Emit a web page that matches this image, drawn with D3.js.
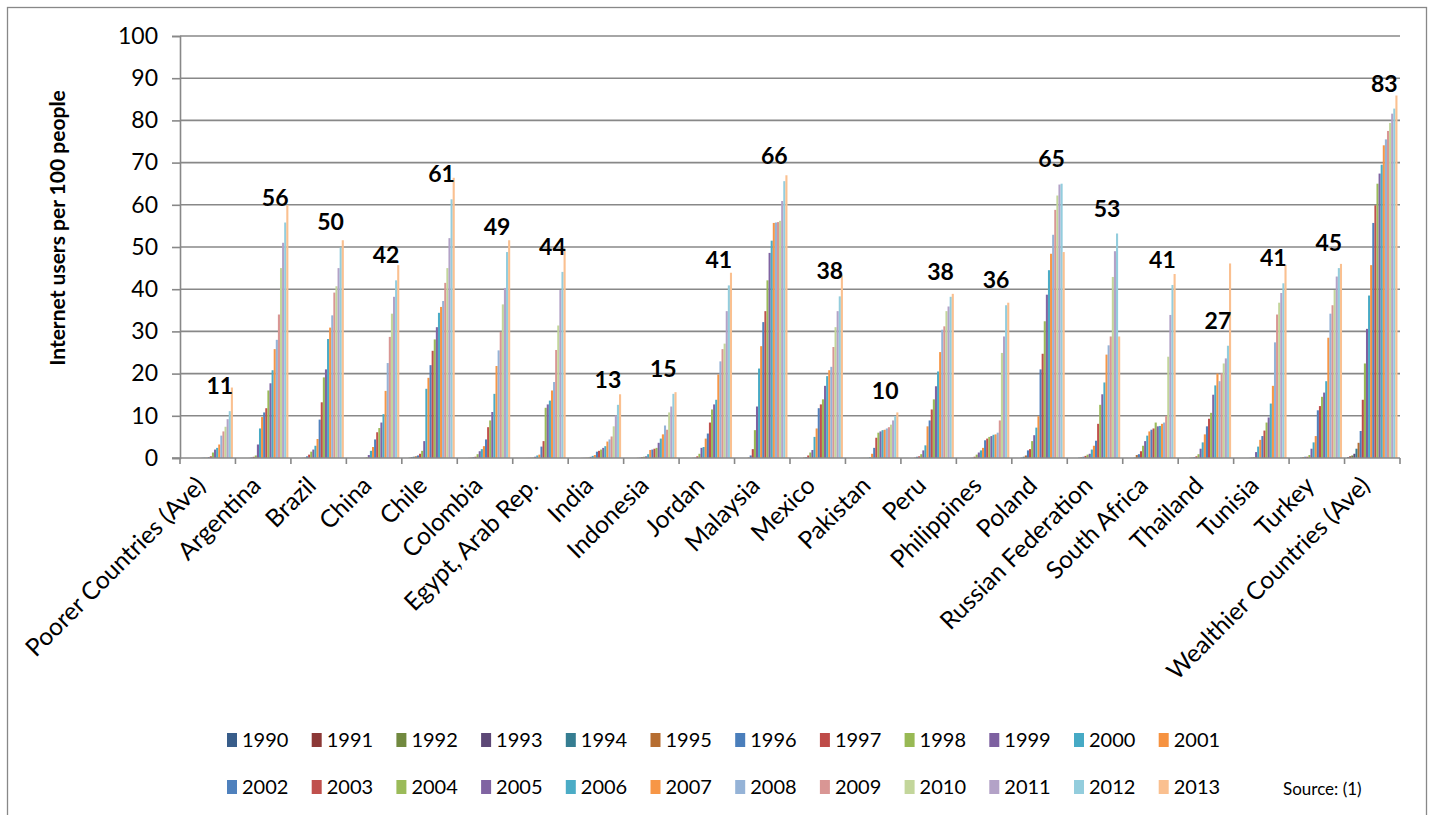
<!DOCTYPE html>
<html><head><meta charset="utf-8">
<script src="https://cdn.jsdelivr.net/npm/d3@7"></script>
<style>
body{margin:0;background:#fff}
svg{display:block}
text{font-family:Lato,"Open Sans",sans-serif;fill:#000}
</style>
</head><body>
<svg id="chart" width="1434" height="815"></svg>
<script>
const countries = ["Poorer Countries (Ave)","Argentina","Brazil","China","Chile","Colombia","Egypt, Arab Rep.","India","Indonesia","Jordan","Malaysia","Mexico","Pakistan","Peru","Philippines","Poland","Russian Federation","South Africa","Thailand","Tunisia","Turkey","Wealthier Countries (Ave)"];
const years = ["1990","1991","1992","1993","1994","1995","1996","1997","1998","1999","2000","2001","2002","2003","2004","2005","2006","2007","2008","2009","2010","2011","2012","2013"];
const yTicks = [0,10,20,30,40,50,60,70,80,90,100];

// Internet users per 100 people, 1990..2013
const poorer      = [0,0,0,0,0,0,0,0.01,0.02,0.05,0.1,0.1,0.2,0.4,1.3,2.0,2.4,3.2,5.3,6.3,7.4,9.2,11.1,16.7];
const argentina   = [0,0,0,0,0,0.03,0.14,0.28,0.6,3.2,7.0,9.7,10.8,11.8,16.0,17.7,20.8,25.8,28.0,34.0,45.0,51.0,55.8,59.9];
const brazil      = [0,0,0,0,0.04,0.1,0.4,0.8,1.5,2.0,2.9,4.5,9.1,13.2,19.1,21.0,28.2,30.9,33.8,39.2,40.7,45.0,49.9,51.6];
const china       = [0,0,0,0,0,0,0.01,0.03,0.17,0.7,1.7,2.6,4.4,6.1,7.1,8.4,10.4,15.9,22.5,28.7,34.2,38.2,42.1,45.7];
const chile       = [0,0,0.1,0.2,0.3,0.4,0.6,1.0,1.7,4.0,16.4,19.0,22.0,25.4,28.1,31.0,34.4,35.8,37.2,41.5,45.0,52.1,61.3,66.4];
const colombia    = [0,0,0,0,0.05,0.1,0.2,0.3,0.9,1.6,2.1,2.8,4.4,7.3,8.9,10.9,15.2,21.8,25.5,29.9,36.4,40.3,48.8,51.6];
const egypt       = [0,0,0,0,0,0.02,0.04,0.07,0.13,0.3,0.6,0.8,2.7,4.0,11.9,12.7,13.6,16.0,18.0,25.6,31.4,39.8,44.1,49.5];
const india       = [0,0,0,0,0,0.03,0.05,0.07,0.14,0.27,0.5,0.7,1.5,1.7,2.0,2.4,2.8,3.9,4.4,5.1,7.5,10.1,12.6,15.1];
const indonesia   = [0,0,0,0,0,0.05,0.1,0.2,0.3,0.4,0.9,1.9,2.0,2.2,2.4,3.6,4.6,5.6,7.7,6.7,10.8,12.2,15.2,15.6];
const jordan      = [0,0,0,0,0,0.05,0.1,0.4,1.0,2.4,2.6,4.6,5.8,8.4,11.5,12.7,13.8,19.8,22.9,25.8,27.1,34.8,40.9,43.9];
const malaysia    = [0,0,0,0,0,0.1,0.6,2.1,6.6,12.2,21.2,26.5,32.2,34.8,42.1,48.6,51.5,55.7,55.8,55.9,56.2,60.9,65.6,67.0];
const mexico      = [0,0,0,0,0,0.1,0.2,0.6,1.3,1.9,5.0,7.0,11.8,12.7,13.9,17.1,19.4,20.8,21.6,26.3,31.0,34.8,38.3,43.3];
const pakistan    = [0,0,0,0,0,0.01,0.02,0.03,0.04,0.05,0.2,1.0,2.4,4.8,6.0,6.3,6.6,6.7,7.0,7.3,7.9,8.9,9.9,10.8];
const peru        = [0,0,0,0,0,0.1,0.3,0.4,0.9,1.8,3.0,7.5,8.9,11.5,13.9,17.0,20.5,25.1,30.4,31.2,34.8,35.9,38.2,38.9];
const philippines = [0,0,0,0,0.01,0.03,0.08,0.3,0.8,1.3,1.8,2.4,4.2,4.6,5.0,5.2,5.5,5.6,6.0,8.9,24.9,28.8,36.2,36.8];
const poland      = [0,0,0,0.1,0.3,0.6,1.8,2.1,4.0,5.4,7.2,9.9,21.0,24.7,32.4,38.7,44.5,48.4,52.9,58.8,62.2,64.8,65.0,48.8];
const russia      = [0,0,0,0,0.1,0.2,0.3,0.5,0.8,1.0,2.0,2.9,4.1,8.1,12.6,15.1,17.9,24.5,26.7,28.8,42.9,49.0,53.2,28.8];
const southAfrica = [0,0,0,0.01,0.1,0.7,0.9,1.6,2.9,4.0,5.3,6.3,6.7,7.0,8.4,7.5,7.6,8.1,8.4,10.0,24.0,33.9,41.0,43.6];
const thailand    = [0,0,0,0,0.05,0.1,0.2,0.4,0.9,2.2,3.7,5.6,7.5,9.3,10.7,15.0,17.2,20.0,18.2,20.1,22.4,23.6,26.6,46.1];
const tunisia     = [0,0,0,0,0,0.01,0.05,0.1,0.2,1.4,2.7,4.3,5.2,6.5,8.4,9.6,12.9,17.1,27.4,34.0,36.8,39.1,41.4,45.8];
const turkey      = [0,0,0,0.01,0.1,0.2,0.3,0.3,0.7,2.2,3.7,5.2,11.3,12.3,14.5,15.5,18.2,28.5,34.2,36.2,39.8,43.0,45.0,46.0];
const wealthier   = [0.2,0.4,0.6,1.0,2.2,3.6,6.4,13.8,22.4,30.6,38.5,45.7,55.7,59.9,65.0,67.4,69.5,74.1,75.5,77.5,79.4,81.6,82.8,85.9];

const yearColors = ["#385D8A","#8C3836","#71893F","#5C4776","#357D91","#B66D31","#4A7EBB","#BE4B48","#98B954","#7D60A0","#46AAC5","#F69240",
                    "#4F81BD","#C0504D","#9BBB59","#8064A2","#4BACC6","#F79646","#95B3D7","#D99694","#C3D69B","#B3A2C7","#93CDDD","#FAC090"];

const seriesByCountry = [poorer,argentina,brazil,china,chile,colombia,egypt,india,indonesia,jordan,malaysia,mexico,pakistan,peru,philippines,poland,russia,southAfrica,thailand,tunisia,turkey,wealthier];
const table = countries.map((c,i)=>({country:c, values:seriesByCountry[i]}));

const svg = d3.select("#chart");
const gridColor = "#888888";

// outer frame
svg.append("rect").attr("x",7.5).attr("y",7.5).attr("width",1419).attr("height",830)
  .attr("fill","none").attr("stroke","#888").attr("stroke-width",1.3);

const x0 = d3.scaleBand().domain(countries).range([180,1400]).padding(0);
const x1 = d3.scaleBand().domain(years).range([0,x0.bandwidth()]).paddingInner(0).paddingOuter(1.2);
const y = d3.scaleLinear().domain([0,100]).range([458,36]);

// gridlines
svg.append("g").selectAll("line").data(yTicks.filter(t=>t>0)).join("line")
  .attr("x1",180).attr("x2",1400).attr("y1",d=>y(d)).attr("y2",d=>y(d))
  .attr("stroke",gridColor).attr("stroke-width",1.6);

// y axis
const yAxis = d3.axisLeft(y).tickValues(yTicks).tickSize(8).tickPadding(14);
const gy = svg.append("g").attr("transform","translate(180,0)").call(yAxis);
gy.select(".domain").attr("stroke",gridColor).attr("stroke-width",1.6);
gy.selectAll(".tick line").attr("stroke",gridColor).attr("stroke-width",1.6);
gy.selectAll(".tick text").attr("font-size",23).attr("font-family","Lato").attr("fill","#000");

// bars
const groups = svg.append("g").selectAll("g").data(table).join("g")
  .attr("transform",d=>`translate(${x0(d.country)},0)`);
groups.selectAll("rect").data(d=>d.values.map((v,i)=>({year:years[i],v}))).join("rect")
  .attr("x",d=>x1(d.year)).attr("width",x1.bandwidth())
  .attr("y",d=>y(d.v)).attr("height",d=>y(0)-y(d.v))
  .attr("fill",(d,i)=>yearColors[i]);

// x axis
svg.append("line").attr("x1",172).attr("x2",1400).attr("y1",y(0)).attr("y2",y(0))
  .attr("stroke",gridColor).attr("stroke-width",1.6);
const bounds = countries.map(c=>x0(c)).concat([x0.range()[1]]);
svg.append("g").selectAll("line").data(bounds).join("line")
  .attr("x1",d=>d).attr("x2",d=>d).attr("y1",y(0)).attr("y2",y(0)+6)
  .attr("stroke",gridColor).attr("stroke-width",1.6);

// category labels
svg.append("g").selectAll("text").data(countries).join("text")
  .attr("transform",c=>`translate(${x0(c)+x0.bandwidth()/2-7},${y(0)+23}) rotate(-45)`)
  .attr("text-anchor","end").attr("dy","0.35em")
  .attr("font-size",24.5).text(c=>c);

// data labels (2012 values)
const i2012 = years.indexOf("2012");
svg.append("g").selectAll("text").data(table).join("text")
  .attr("x",d=>x0(d.country)+x0.bandwidth()/2+12)
  .attr("y",d=>y(d.values[i2012])-25)
  .attr("dy","0.35em").attr("text-anchor","middle")
  .attr("font-size",23).attr("font-weight","bold")
  .text(d=>d3.format(".0f")(d.values[i2012]));

// y axis title
svg.append("text").attr("transform","translate(58,228) rotate(-90)")
  .attr("text-anchor","middle").attr("dy","0.35em")
  .attr("font-size",21).attr("font-weight","bold")
  .text("Internet users per 100 people");

// legend
const leg = svg.append("g");
years.forEach((yr,i)=>{
  const row = Math.floor(i/12), col = i%12;
  const lx = 227 + col*84.7, ly = 740 + row*47;
  leg.append("rect").attr("x",lx).attr("y",ly-7).attr("width",10).attr("height",14).attr("fill",yearColors[i]);
  leg.append("text").attr("x",lx+15).attr("y",ly).attr("dy","0.35em").attr("font-size",20).text(yr);
});

svg.append("text").attr("x",1283).attr("y",789).attr("dy","0.35em").attr("font-size",17).text("Source: (1)");
</script>
</body></html>
